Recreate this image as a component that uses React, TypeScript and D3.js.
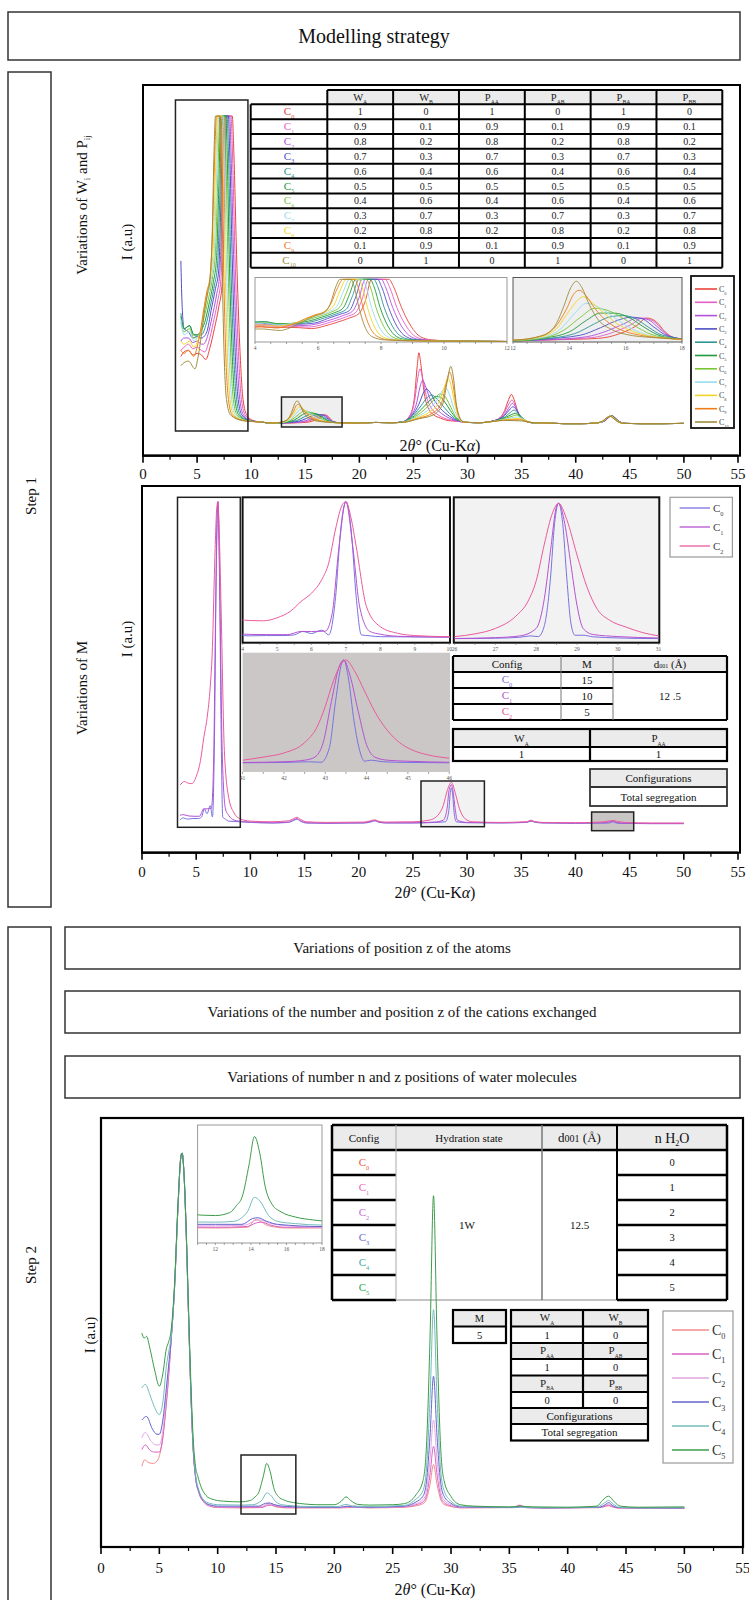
import React from "react";
import * as d3 from "d3";

type Pt = [number, number];

const FONT = "'Liberation Serif', 'DejaVu Serif', serif";

/* ---------------- Step 1 : variations of W_i and P_ij ---------------- */
const wpConfigs = ["0", "1", "2", "3", "4", "5", "6", "7", "8", "9", "10"];
const wA = [1, 0.9, 0.8, 0.7, 0.6, 0.5, 0.4, 0.3, 0.2, 0.1, 0];
const wB = [0, 0.1, 0.2, 0.3, 0.4, 0.5, 0.6, 0.7, 0.8, 0.9, 1];
const pAA = [1, 0.9, 0.8, 0.7, 0.6, 0.5, 0.4, 0.3, 0.2, 0.1, 0];
const pAB = [0, 0.1, 0.2, 0.3, 0.4, 0.5, 0.6, 0.7, 0.8, 0.9, 1];
const pBA = [1, 0.9, 0.8, 0.7, 0.6, 0.5, 0.4, 0.3, 0.2, 0.1, 0];
const pBB = [0, 0.1, 0.2, 0.3, 0.4, 0.5, 0.6, 0.7, 0.8, 0.9, 1];
const wpColors = ["#e8443a", "#e35fc6", "#b252dc", "#4f4fc6", "#2f9494", "#1f9a3c", "#79c534", "#98dcef", "#f0d624", "#f07d1c", "#9c8c3c"];

const wpC0: Pt[] = [[3.5,.22],[3.8,.235],[4.2,.24],[4.6,.225],[5.0,.23],[5.4,.225],[5.8,.21],[6.2,.25],[6.6,.31],[7.0,.38],[7.3,.45],[7.5,.65],[7.7,1],[8.25,1],[8.4,.88],[8.65,.55],[8.95,.25],[9.25,.08],[9.6,.03],[10.2,.012],[11,.007],
  [12,.003],[13,.004],[15.0,.006],[15.8,.012],[16.4,.022],[16.75,.031],[17.1,.026],[17.4,.014],[17.8,.006],[18.5,.004],[20,.004],[21.5,.006],[23,.005],
  [24,.008],[24.7,.03],[25.1,.09],[25.35,.19],[25.5,.232],[25.7,.19],[26.0,.1],[26.4,.05],[26.9,.03],[27.5,.02],[28.2,.012],[29,.01],[30,.006],
  [31,.005],[32.5,.012],[33.3,.035],[33.8,.08],[34.05,.097],[34.3,.08],[34.7,.035],[35.2,.012],[36,.005],
  [37.5,.004],[39,.002],[40.5,.002],[41.8,.004],[42.65,.01],[43.05,.022],[43.35,.028],[43.65,.021],[44.05,.009],[44.65,.003],[46,.002],[48,.002],[50,.003]];
const wpC1: Pt[] = [[3.5,.24],[3.8,.25],[4.2,.26],[4.6,.245],[5.0,.25],[5.4,.24],[5.7,.235],[6.1,.27],[6.5,.33],[6.9,.4],[7.2,.47],[7.4,.68],[7.6,1],[8.13,1],[8.27,.88],[8.5,.55],[8.8,.25],[9.1,.08],[9.45,.03],[10.1,.012],[11,.007],
  [12,.003],[13,.004],[14.8,.007],[15.6,.014],[16.2,.023],[16.6,.031],[17.0,.027],[17.35,.015],[17.7,.007],[18.5,.004],[20,.004],[21.5,.006],[23,.005],
  [24,.008],[24.7,.03],[25.1,.075],[25.4,.15],[25.6,.18],[25.85,.15],[26.2,.09],[26.7,.05],[27.3,.03],[28,.018],[29,.01],[30,.006],
  [31,.005],[32.5,.012],[33.3,.032],[33.85,.068],[34.1,.079],[34.35,.066],[34.75,.032],[35.3,.012],[36,.005],
  [37.5,.004],[39,.002],[40.5,.002],[41.8,.004],[42.63,.01],[43.03,.022],[43.33,.028],[43.63,.021],[44.03,.009],[44.63,.003],[46,.002],[48,.002],[50,.003]];
const wpC2: Pt[] = [[3.5,.27],[3.8,.28],[4.2,.28],[4.6,.265],[5.0,.27],[5.4,.26],[5.6,.26],[6.0,.29],[6.4,.35],[6.8,.42],[7.1,.49],[7.3,.7],[7.5,1],[8.01,1],[8.14,.88],[8.37,.55],[8.65,.25],[8.95,.08],[9.3,.03],[10,.012],[11,.007],
  [12,.003],[13,.004],[14.6,.008],[15.4,.016],[16.0,.025],[16.4,.031],[16.8,.029],[17.2,.018],[17.6,.008],[18.5,.004],[20,.004],[21.5,.006],[23,.005],
  [24,.008],[24.8,.03],[25.3,.07],[25.6,.12],[25.85,.143],[26.1,.125],[26.5,.085],[27.0,.055],[27.6,.035],[28.3,.02],[29.2,.01],[30,.006],
  [31,.005],[32.5,.012],[33.4,.03],[33.9,.058],[34.15,.068],[34.4,.058],[34.8,.03],[35.3,.012],[36,.005],
  [37.5,.004],[39,.002],[40.5,.002],[41.8,.004],[42.61,.01],[43.01,.022],[43.31,.028],[43.61,.021],[44.01,.009],[44.61,.003],[46,.002],[48,.002],[50,.003]];
const wpC3: Pt[] = [[3.5,.53],[3.6,.4],[3.8,.31],[4.2,.3],[4.6,.28],[5.0,.285],[5.4,.28],[5.9,.3],[6.3,.37],[6.7,.44],[7.0,.5],[7.2,.72],[7.4,1],[7.89,1],[8.02,.88],[8.24,.55],[8.5,.25],[8.8,.08],[9.15,.03],[9.9,.012],[11,.007],
  [12,.003],[13,.005],[14.4,.01],[15.1,.019],[15.7,.028],[16.2,.032],[16.6,.03],[17.0,.02],[17.5,.009],[18.5,.004],[20,.004],[21.5,.006],[23,.005],
  [24,.008],[24.9,.03],[25.5,.065],[25.9,.1],[26.2,.115],[26.5,.105],[26.9,.08],[27.4,.055],[28.0,.035],[28.7,.018],[29.5,.009],[30,.006],
  [31,.005],[32.5,.012],[33.4,.028],[33.95,.05],[34.2,.057],[34.45,.05],[34.85,.028],[35.35,.012],[36,.005],
  [37.5,.004],[39,.002],[40.5,.002],[41.8,.004],[42.59,.01],[42.99,.022],[43.29,.028],[43.59,.021],[43.99,.009],[44.59,.003],[46,.002],[48,.002],[50,.003]];
const wpC4: Pt[] = [[3.5,.36],[3.8,.31],[4.3,.32],[4.7,.29],[5.0,.29],[5.4,.29],[5.8,.32],[6.2,.38],[6.6,.45],[6.9,.52],[7.1,.74],[7.3,1],[7.77,1],[7.9,.88],[8.1,.55],[8.36,.25],[8.65,.08],[9.0,.03],[9.8,.012],[11,.007],
  [12,.003],[13,.005],[14.2,.012],[14.9,.024],[15.4,.032],[15.9,.034],[16.3,.031],[16.8,.02],[17.3,.01],[18.5,.004],[20,.004],[21.5,.006],[23,.005],
  [24,.008],[25,.03],[25.7,.06],[26.3,.088],[26.7,.095],[27.1,.085],[27.6,.065],[28.2,.04],[28.8,.02],[29.5,.01],[30,.006],
  [31,.005],[32.5,.011],[33.5,.025],[34.0,.04],[34.3,.046],[34.55,.04],[34.95,.025],[35.4,.011],[36,.005],
  [37.5,.004],[39,.002],[40.5,.002],[41.8,.004],[42.57,.01],[42.97,.022],[43.27,.027],[43.57,.021],[43.97,.009],[44.57,.003],[46,.002],[48,.002],[50,.003]];
const wpC5: Pt[] = [[3.5,.35],[3.8,.31],[4.3,.32],[4.7,.29],[5.0,.29],[5.3,.3],[5.7,.33],[6.1,.39],[6.5,.46],[6.8,.54],[7.0,.76],[7.2,1],[7.65,1],[7.78,.88],[7.97,.55],[8.22,.25],[8.5,.08],[8.85,.03],[9.7,.012],[11,.007],
  [12,.003],[13,.006],[14,.014],[14.6,.028],[15.1,.037],[15.6,.037],[16.1,.032],[16.6,.021],[17.1,.011],[17.8,.005],[18.5,.004],[20,.004],[21.5,.006],[23,.005],
  [24,.007],[25.1,.028],[25.9,.055],[26.6,.08],[27.1,.09],[27.5,.088],[27.9,.072],[28.4,.045],[28.9,.022],[29.5,.01],[30,.006],
  [31,.005],[32.5,.011],[33.5,.022],[34.1,.032],[34.4,.036],[34.65,.032],[35.0,.022],[35.5,.01],[36,.005],
  [37.5,.004],[39,.002],[40.5,.002],[41.8,.004],[42.55,.01],[42.95,.022],[43.25,.027],[43.55,.021],[43.95,.009],[44.55,.003],[46,.002],[48,.002],[50,.003]];
const wpC6: Pt[] = [[3.5,.33],[3.8,.3],[4.3,.31],[4.7,.28],[5.0,.285],[5.3,.3],[5.6,.34],[6.0,.4],[6.4,.47],[6.7,.56],[6.9,.78],[7.1,1],[7.53,1],[7.66,.88],[7.84,.55],[8.08,.25],[8.35,.08],[8.7,.03],[9.6,.012],[11,.007],
  [12,.003],[13,.006],[13.8,.016],[14.4,.032],[14.9,.043],[15.3,.041],[15.8,.033],[16.3,.022],[16.9,.011],[17.7,.006],[18.5,.004],[20,.004],[21.5,.006],[23,.005],
  [24,.007],[25.2,.026],[26.1,.05],[26.9,.08],[27.4,.098],[27.75,.097],[28.1,.08],[28.6,.045],[29.0,.02],[29.6,.008],[30.2,.006],
  [31,.005],[32.5,.01],[33.6,.02],[34.2,.027],[34.5,.03],[34.75,.027],[35.1,.018],[35.5,.009],[36,.005],
  [37.5,.004],[39,.002],[40.5,.002],[41.8,.004],[42.53,.01],[42.93,.022],[43.23,.027],[43.53,.021],[43.93,.009],[44.53,.003],[46,.002],[48,.002],[50,.003]];
const wpC7: Pt[] = [[3.5,.34],[3.8,.29],[4.3,.3],[4.7,.27],[5.0,.28],[5.3,.3],[5.6,.35],[5.9,.41],[6.3,.47],[6.6,.57],[6.8,.8],[7.0,1],[7.41,1],[7.53,.88],[7.7,.55],[7.93,.25],[8.2,.08],[8.55,.03],[9.5,.012],[11,.007],
  [12,.004],[13,.007],[13.7,.018],[14.2,.037],[14.6,.049],[15.0,.045],[15.5,.034],[16.0,.022],[16.6,.012],[17.5,.006],[18.5,.004],[20,.004],[21.5,.006],[23,.005],
  [24,.007],[25.3,.024],[26.3,.045],[27.2,.08],[27.7,.11],[28.0,.117],[28.3,.1],[28.7,.055],[29.1,.022],[29.6,.008],[30.2,.006],
  [31,.005],[32.5,.01],[33.6,.018],[34.3,.022],[34.6,.024],[34.85,.022],[35.2,.016],[35.6,.008],[36.2,.005],
  [37.5,.004],[39,.002],[40.5,.002],[41.8,.004],[42.51,.01],[42.91,.022],[43.21,.027],[43.51,.021],[43.91,.009],[44.51,.003],[46,.002],[48,.002],[50,.003]];
const wpC8: Pt[] = [[3.5,.27],[3.8,.26],[4.3,.27],[4.7,.25],[5.0,.265],[5.3,.3],[5.6,.36],[5.9,.42],[6.2,.47],[6.5,.58],[6.7,.82],[6.9,1],[7.29,1],[7.4,.88],[7.57,.55],[7.78,.25],[8.05,.08],[8.4,.03],[9.4,.012],[11,.007],
  [12,.004],[13,.008],[13.6,.02],[14.0,.04],[14.5,.057],[14.8,.05],[15.2,.038],[15.7,.024],[16.3,.014],[17.2,.007],[18.5,.004],[20,.004],[21.5,.006],[23,.005],
  [24,.006],[25.4,.022],[26.5,.04],[27.4,.075],[27.9,.125],[28.2,.15],[28.45,.13],[28.8,.07],[29.15,.025],[29.6,.008],[30.2,.006],
  [31,.005],[32.5,.01],[33.7,.016],[34.4,.018],[34.7,.019],[34.95,.017],[35.3,.013],[35.7,.007],[36.2,.005],
  [37.5,.004],[39,.002],[40.5,.002],[41.8,.004],[42.49,.01],[42.89,.021],[43.19,.027],[43.49,.021],[43.89,.009],[44.49,.003],[46,.002],[48,.002],[50,.003]];
const wpC9: Pt[] = [[3.5,.24],[3.8,.23],[4.2,.24],[4.7,.22],[5.0,.25],[5.3,.3],[5.6,.37],[5.9,.43],[6.2,.48],[6.4,.6],[6.6,.84],[6.8,1],[7.17,1],[7.27,.88],[7.43,.55],[7.63,.25],[7.9,.08],[8.25,.03],[9.3,.012],[11,.007],
  [12,.004],[13,.009],[13.5,.02],[13.9,.042],[14.15,.06],[14.35,.065],[14.6,.058],[14.9,.043],[15.3,.028],[15.8,.017],[16.5,.01],[17.5,.006],[18.5,.004],[20,.004],[21.5,.006],[23,.005],
  [24,.006],[25.5,.02],[26.7,.035],[27.6,.07],[28.05,.135],[28.35,.17],[28.6,.14],[28.9,.07],[29.2,.025],[29.6,.008],[30.2,.006],
  [31,.005],[32.5,.01],[33.7,.014],[34.5,.015],[34.8,.015],[35.1,.013],[35.5,.009],[36.2,.005],
  [37.5,.004],[39,.002],[40.5,.002],[41.8,.004],[42.47,.01],[42.87,.021],[43.17,.026],[43.47,.02],[43.87,.009],[44.47,.003],[46,.002],[48,.002],[50,.003]];
const wpC10: Pt[] = [[3.5,.19],[3.8,.2],[4.2,.205],[4.8,.18],[5.1,.22],[5.4,.29],[5.7,.37],[6.0,.43],[6.2,.47],[6.4,.62],[6.55,.86],[6.7,1],[7.05,1],[7.15,.88],[7.3,.55],[7.48,.25],[7.72,.08],[8.1,.03],[9.2,.012],[11,.007],
  [12,.004],[13,.009],[13.5,.022],[13.8,.045],[14.05,.068],[14.25,.076],[14.45,.068],[14.7,.048],[15.0,.03],[15.5,.017],[16,.011],[17,.007],[18.5,.005],[20,.004],[21.5,.006],[23,.005],
  [24,.006],[25.5,.018],[26.8,.03],[27.7,.065],[28.15,.145],[28.45,.188],[28.7,.15],[28.95,.07],[29.25,.025],[29.6,.008],[30.2,.006],
  [31,.005],[32.5,.01],[33.3,.013],[34.2,.012],[35,.011],[35.5,.008],[36.2,.005],
  [37.5,.004],[39,.002],[40.5,.002],[41.8,.004],[42.45,.01],[42.85,.021],[43.15,.026],[43.45,.02],[43.85,.009],[44.45,.003],[46,.002],[48,.002],[50,.003]];
const wpSeries = [wpC0, wpC1, wpC2, wpC3, wpC4, wpC5, wpC6, wpC7, wpC8, wpC9, wpC10];

/* ---------------- Step 1 : variations of M ---------------- */
const mConfigs = ["0", "1", "2"];
const mValues = [15, 10, 5];
const mD001 = "12 .5";
const mWA = "1";
const mPAA = "1";
const segregation = "Total segregation";
const mColors = ["#7a72e0", "#b552d2", "#ea5a9c"];

const mC0: Pt[] = [[3.5,.015],[3.8,.022],[4.2,.018],[4.7,.02],[5.2,.02],[5.5,.025],[5.75,.05],[6.0,.035],[6.3,.06],[6.5,.025],[6.7,.3],[6.85,.8],[7.0,1],[7.15,.8],[7.3,.3],[7.45,.025],[7.7,.018],[8.0,.012],[9,.01],[10,.008],
  [12,.006],[13.5,.008],[14.0,.014],[14.3,.018],[14.6,.012],[15.2,.006],[17,.005],[20.5,.006],[21.2,.01],[21.5,.013],[21.8,.009],[22.5,.006],[25,.006],[27,.008],[28.0,.01],[28.3,.04],[28.45,.1],[28.55,.115],[28.65,.1],[28.8,.04],[29.0,.01],[30,.007],
  [33,.006],[35.5,.008],[35.9,.012],[36.2,.009],[37,.006],[40,.005],[43.0,.006],[43.3,.008],[43.45,.01],[43.6,.008],[44,.005],[47,.004],[50,.004]];
const mC1: Pt[] = [[3.5,.03],[3.8,.032],[4.3,.028],[4.8,.027],[5.3,.027],[5.7,.05],[6.0,.05],[6.4,.052],[6.6,.18],[6.8,.67],[7.0,1],[7.2,.67],[7.4,.23],[7.7,.05],[8.0,.03],[8.5,.015],[9.5,.01],
  [12,.007],[13.5,.009],[14.0,.016],[14.3,.02],[14.6,.014],[15.2,.007],[17,.006],[20.5,.007],[21.2,.012],[21.5,.014],[21.8,.01],[22.5,.007],[25,.007],[27,.009],[27.8,.015],[28.15,.05],[28.35,.11],[28.55,.125],[28.7,.105],[28.9,.05],[29.1,.015],[30,.008],
  [33,.007],[35.5,.009],[35.9,.013],[36.2,.01],[37,.007],[40,.006],[42.7,.007],[43.1,.009],[43.45,.012],[43.8,.008],[44.3,.006],[47,.005],[50,.005]];
const mC2: Pt[] = [[3.5,.124],[3.7,.13],[3.9,.135],[4.2,.13],[4.6,.128],[5.0,.15],[5.4,.2],[5.7,.27],[6.0,.33],[6.3,.43],[6.5,.55],[6.7,.8],[6.9,.98],[7.0,1],[7.15,.88],[7.3,.67],[7.6,.23],[8.0,.085],[8.5,.037],[9.0,.02],[10,.012],
  [12,.01],[13.5,.013],[14.0,.02],[14.3,.024],[14.6,.018],[15.2,.01],[17,.008],[20.5,.009],[21.2,.014],[21.5,.016],[21.8,.012],[22.5,.009],[25,.01],[26.5,.015],[27.3,.03],[27.8,.06],[28.2,.11],[28.55,.132],[28.9,.1],[29.3,.05],[29.8,.02],[30.5,.01],
  [33,.008],[35.5,.01],[35.9,.015],[36.2,.011],[37,.008],[40,.007],[42.3,.009],[43.0,.012],[43.45,.014],[43.9,.011],[44.6,.008],[47,.006],[50,.006]];
const mSeries = [mC0, mC1, mC2];

// 28.5° reflection, each profile scaled to its own maximum
const mB0: Pt[] = [[26,.005],[27,.008],[27.6,.015],[27.85,.025],[28.05,.02],[28.2,.1],[28.35,.45],[28.45,.85],[28.55,1],[28.65,.85],[28.75,.45],[28.85,.12],[28.95,.03],[29.15,.03],[29.4,.018],[30,.01],[31,.005]];
const mB1: Pt[] = [[26,.006],[27,.012],[27.6,.025],[28.0,.08],[28.2,.3],[28.35,.65],[28.5,.98],[28.55,1],[28.7,.85],[28.85,.55],[29.0,.25],[29.15,.08],[29.4,.035],[30,.02],[31,.01]];
const mB2: Pt[] = [[26,.02],[26.5,.04],[27,.08],[27.5,.17],[27.8,.28],[28.0,.43],[28.2,.7],[28.4,.93],[28.55,1],[28.75,.88],[29.0,.62],[29.25,.38],[29.5,.22],[29.8,.14],[30.2,.09],[30.6,.05],[31,.025]];
const mBSeries = [mB0, mB1, mB2];
// 43.5° reflection, each profile scaled to its own maximum
const mH0: Pt[] = [[41,.005],[42,.008],[42.6,.015],[42.9,.01],[43.1,.15],[43.25,.6],[43.4,.97],[43.45,1],[43.55,.85],[43.7,.4],[43.85,.1],[43.95,.02],[44.1,.03],[44.4,.015],[45,.008],[46,.005]];
const mH1: Pt[] = [[41,.008],[42,.015],[42.5,.03],[42.75,.06],[42.95,.2],[43.15,.6],[43.35,.95],[43.45,1],[43.6,.85],[43.8,.5],[44.0,.18],[44.2,.06],[44.5,.03],[45,.02],[46,.01]];
const mH2: Pt[] = [[41,.03],[41.5,.06],[42,.1],[42.5,.2],[42.8,.35],[43.0,.55],[43.2,.8],[43.4,.97],[43.5,1],[43.7,.9],[43.95,.7],[44.2,.5],[44.5,.32],[44.8,.2],[45.1,.13],[45.5,.08],[46,.05]];
const mHSeries = [mH0, mH1, mH2];

/* ---------------- Step 2 : number n of water molecules ---------------- */
const hConfigs = ["0", "1", "2", "3", "4", "5"];
const nH2O = [0, 1, 2, 3, 4, 5];
const hState = "1W";
const hD001 = "12.5";
const hM = "5";
const hWHeads = [["W", "A"], ["W", "B"]];
const hWVals = ["1", "0"];
const hPAHeads = [["P", "AA"], ["P", "AB"]];
const hPAVals = ["1", "0"];
const hPBHeads = [["P", "BA"], ["P", "BB"]];
const hPBVals = ["0", "0"];
const hColors = ["#f28c8c", "#d762c4", "#e2a6e6", "#6464cc", "#74bcbc", "#3c9c4a"];
const hLabelColors = ["#ea5a3c", "#e864bc", "#c86ad8", "#6a6ad2", "#3aa8a2", "#2ea848"];

const hC0: Pt[] = [[3.5,.12],[3.75,.138],[4.1,.13],[4.5,.128],[4.9,.14],[5.2,.18],[5.5,.26],[5.8,.37],[6.0,.47],[6.3,.62],[6.6,.85],[6.85,.99],[6.95,1],[7.1,.95],[7.3,.78],[7.5,.55],[7.7,.33],[7.9,.17],[8.1,.09],[8.4,.045],[8.8,.02],[9.3,.008],[10,.004],
  [12,.003],[13.8,.004],[14.3,.015],[14.6,.011],[15,.006],[16,.003],[20.5,.003],[21.4,.004],[21.7,.009],[22.0,.005],[23,.003],
  [26,.005],[27,.009],[27.6,.015],[27.9,.028],[28.2,.069],[28.5,.125],[28.8,.069],[29.1,.028],[29.4,.013],[30,.007],[30.8,.003],
  [35.3,.004],[35.9,.011],[36.4,.004],[38,.003],[42.7,.004],[43.2,.007],[43.5,.009],[43.8,.006],[44.3,.003],[47,.002],[50,.002]];
const hC1: Pt[] = [[3.5,.167],[3.8,.18],[4.2,.165],[4.6,.16],[5.0,.16],[5.3,.2],[5.6,.3],[5.85,.4],[6.0,.47],[6.3,.62],[6.6,.85],[6.85,.99],[6.95,1],[7.1,.95],[7.3,.78],[7.5,.55],[7.7,.33],[7.9,.17],[8.1,.09],[8.4,.045],[8.8,.02],[9.3,.009],[10,.005],
  [12,.004],[13.8,.005],[14.3,.01],[14.6,.011],[15.1,.007],[16,.004],[20.5,.004],[21.2,.006],[21.6,.005],[23,.004],
  [26,.006],[27,.012],[27.6,.02],[27.9,.038],[28.2,.097],[28.5,.176],[28.8,.097],[29.1,.038],[29.4,.018],[30,.009],[30.8,.004],
  [35.3,.004],[35.9,.01],[36.4,.004],[38,.003],[42.7,.004],[43.2,.008],[43.5,.011],[43.8,.007],[44.3,.003],[47,.002],[50,.002]];
const hC2: Pt[] = [[3.5,.2],[3.8,.215],[4.3,.19],[4.7,.18],[5.0,.18],[5.3,.22],[5.6,.32],[5.85,.41],[6.0,.47],[6.3,.62],[6.6,.85],[6.85,.99],[6.95,1],[7.1,.95],[7.3,.78],[7.5,.55],[7.7,.33],[7.9,.17],[8.1,.09],[8.4,.046],[8.8,.021],[9.3,.01],[10,.006],
  [12,.006],[13.7,.007],[14.2,.013],[14.5,.014],[15,.01],[16,.006],[18,.004],[20.5,.004],[21.2,.007],[21.6,.005],[23,.004],
  [26,.007],[27,.015],[27.6,.026],[27.9,.053],[28.2,.138],[28.5,.25],[28.8,.138],[29.1,.053],[29.4,.025],[30,.012],[30.8,.005],
  [35.5,.004],[36,.006],[36.5,.004],[38,.003],[42.7,.005],[43.2,.01],[43.5,.014],[43.8,.009],[44.3,.004],[47,.003],[50,.003]];
const hC3: Pt[] = [[3.5,.25],[3.9,.26],[4.4,.225],[4.8,.21],[5.0,.21],[5.3,.25],[5.6,.34],[5.85,.42],[6.0,.47],[6.3,.62],[6.6,.85],[6.85,.99],[6.95,1],[7.1,.95],[7.3,.78],[7.5,.55],[7.7,.33],[7.9,.17],[8.1,.092],[8.4,.048],[8.8,.022],[9.3,.012],[10,.008],
  [12,.008],[13.5,.008],[14.1,.016],[14.4,.017],[14.9,.012],[15.5,.008],[18,.005],[20.5,.005],[21.1,.008],[21.6,.006],[23,.005],
  [26,.008],[27,.02],[27.6,.036],[27.9,.078],[28.2,.205],[28.5,.373],[28.8,.205],[29.1,.078],[29.4,.036],[30,.016],[30.8,.006],
  [35.5,.004],[36,.006],[36.5,.004],[38,.003],[42.7,.005],[43.2,.012],[43.5,.018],[43.8,.011],[44.3,.004],[47,.003],[50,.003]];
const hC4: Pt[] = [[3.5,.34],[3.8,.35],[4.2,.32],[4.6,.285],[5.0,.265],[5.3,.3],[5.6,.4],[5.85,.45],[6.0,.48],[6.3,.62],[6.6,.85],[6.85,.99],[6.95,1],[7.1,.95],[7.3,.78],[7.5,.55],[7.7,.34],[7.9,.18],[8.1,.1],[8.4,.052],[8.8,.026],[9.3,.016],[10,.012],
  [12,.011],[13,.012],[13.8,.025],[14.2,.045],[14.5,.04],[15.0,.02],[15.5,.012],[16.5,.009],[18,.007],[20.3,.007],[21.0,.013],[21.6,.008],[23,.007],
  [26,.01],[27,.028],[27.6,.052],[27.9,.115],[28.2,.31],[28.5,.56],[28.8,.31],[29.1,.115],[29.4,.052],[30,.022],[30.8,.008],
  [35.5,.005],[36,.006],[36.5,.005],[38,.004],[42.6,.006],[43.1,.016],[43.5,.024],[43.9,.014],[44.4,.005],[47,.003],[50,.004]];
const hC5: Pt[] = [[3.5,.494],[3.7,.48],[3.9,.485],[4.2,.45],[4.6,.39],[5.0,.345],[5.3,.38],[5.6,.45],[5.8,.47],[6.0,.5],[6.3,.63],[6.6,.86],[6.85,.99],[6.95,1],[7.1,.95],[7.3,.79],[7.5,.57],[7.7,.36],[7.9,.2],[8.1,.12],[8.3,.092],[8.6,.06],[9.0,.038],[9.5,.028],[10.5,.022],
  [12,.02],[12.8,.024],[13.2,.034],[13.5,.045],[13.9,.09],[14.2,.128],[14.5,.105],[14.8,.06],[15.2,.035],[15.7,.025],[16.5,.018],[17.5,.014],[18.5,.012],[20,.012],[20.6,.022],[21.0,.034],[21.4,.024],[22,.013],[23,.011],[25,.012],
  [26,.015],[27,.04],[27.6,.08],[27.9,.18],[28.2,.48],[28.5,.88],[28.8,.48],[29.1,.18],[29.4,.08],[30,.035],[30.8,.012],
  [32,.008],[35,.006],[36,.008],[37,.006],[40,.005],[42.5,.008],[43.0,.025],[43.5,.036],[44.0,.02],[44.5,.008],[46,.005],[50,.006]];
const hSeries = [hC0, hC1, hC2, hC3, hC4, hC5];

/* ---------------- helpers ---------------- */
function Curve({ data, x, y, color, width = 1 }: any) {
  const gen = d3.line<Pt>().x((d) => x(d[0])).y((d) => y(d[1])).curve(d3.curveMonotoneX);
  return <path d={gen(data) || ""} fill="none" stroke={color} strokeWidth={width} strokeLinejoin="round" />;
}

function Sub({ x, y, base, sub, size, fill = "#222", anchor = "middle", ratio = 0.58, drop = 0.32 }: any) {
  return (
    <text x={x} y={y} fontSize={size} fill={fill} textAnchor={anchor}>
      {base}
      <tspan fontSize={size * ratio} dy={size * drop}>{sub}</tspan>
    </text>
  );
}

function AxisTitle({ x, y }: any) {
  return (
    <text x={x} y={y} fontSize={16} textAnchor="middle">
      2<tspan fontStyle="italic">θ</tspan>° (Cu-K<tspan fontStyle="italic">α</tspan>)
    </text>
  );
}

function BottomAxis({ x, y, labelY }: any) {
  const majors = d3.range(0, 56, 5);
  const minors = d3.range(2.5, 55, 5);
  return (
    <g>
      <line x1={x(0)} x2={x(55)} y1={y} y2={y} stroke="#000" strokeWidth={2.2} />
      {majors.map((v) => <line key={"M" + v} x1={x(v)} x2={x(v)} y1={y} y2={y + 7} stroke="#000" strokeWidth={1.6} />)}
      {minors.map((v) => <line key={"m" + v} x1={x(v)} x2={x(v)} y1={y} y2={y + 4} stroke="#000" strokeWidth={1.2} />)}
      {majors.map((v) => <text key={"t" + v} x={x(v)} y={labelY} fontSize={15} textAnchor="middle">{v}</text>)}
    </g>
  );
}

function InsetTicks({ x, y, lo, hi, labels, step = 0.5 }: any) {
  const minor = d3.range(lo, hi + 0.001, step);
  return (
    <g>
      {minor.map((v: number) => <line key={v} x1={x(v)} x2={x(v)} y1={y} y2={y + 2} stroke="#666" strokeWidth={0.6} />)}
      {labels.map((v: number) => <text key={"l" + v} x={x(v)} y={y + 7.5} fontSize={5.5} fill="#555" textAnchor="middle">{v}</text>)}
    </g>
  );
}

function VText({ x, y, size = 15, children }: any) {
  return (
    <text transform={`translate(${x},${y}) rotate(-90)`} fontSize={size} textAnchor="middle">{children}</text>
  );
}

function HLine({ x1, x2, y, w = 2, c = "#000" }: any) {
  return <line x1={x1} x2={x2} y1={y} y2={y} stroke={c} strokeWidth={w} />;
}
function VLine({ x, y1, y2, w = 2, c = "#000" }: any) {
  return <line x1={x} x2={x} y1={y1} y2={y2} stroke={c} strokeWidth={w} />;
}

const HEAD = "#ebebeb";

/* ---------------- Step 1, panel a ---------------- */
function PanelWP() {
  const x = d3.scaleLinear().domain([0, 55]).range([143, 738]);
  const y = d3.scaleLinear().domain([0, 1]).range([424.3, 116]);
  const fr = { l: 143, r: 740, t: 85, b: 455.7 };

  const colX = d3.scaleBand().domain(["WA", "WB", "PAA", "PAB", "PBA", "PBB"]).range([327.3, 722.3]);
  const rowY = d3.scaleBand().domain(wpConfigs).range([104.3, 267.7]);
  const tl = 250.7, tr = 722.3, tt = 90, th = 104.3, tb = 267.7;
  const heads = [["W", "A"], ["W", "B"], ["P", "AA"], ["P", "AB"], ["P", "BA"], ["P", "BB"]];
  const cols = [wA, wB, pAA, pAB, pBA, pBB];

  const x1 = d3.scaleLinear().domain([4, 12]).range([255, 507]);
  const y1 = d3.scaleLinear().domain([0, 1]).range([341.7, 279.3]);
  const x2 = d3.scaleLinear().domain([12, 18]).range([513, 682]);
  const y2 = d3.scaleLinear().domain([0.002, 0.08]).range([341.7, 278]);
  const legY = d3.scaleLinear().domain([0, 10]).range([289, 422]);

  return (
    <g>
      <defs>
        <clipPath id="wpMain"><rect x={fr.l} y={fr.t} width={fr.r - fr.l} height={fr.b - fr.t} /></clipPath>
        <clipPath id="wpIn1"><rect x={255} y={277.5} width={252} height={64.5} /></clipPath>
        <clipPath id="wpIn2"><rect x={513} y={277.5} width={169} height={64.5} /></clipPath>
      </defs>
      <rect x={fr.l} y={fr.t} width={fr.r - fr.l} height={fr.b - fr.t} fill="#fff" stroke="#000" strokeWidth={2} />
      <rect x={x(12.8)} y={397} width={x(18.4) - x(12.8)} height={30} fill="#efefef" />
      <g clipPath="url(#wpMain)">
        {wpSeries.map((s, i) => <Curve key={i} data={s} x={x} y={y} color={wpColors[i]} />)}
      </g>
      <rect x={x(3)} y={100} width={x(9.7) - x(3)} height={331} fill="none" stroke="#222" strokeWidth={1.5} />
      <rect x={x(12.8)} y={397} width={x(18.4) - x(12.8)} height={30} fill="none" stroke="#222" strokeWidth={1.5} />

      {/* configuration table */}
      <rect x={colX.range()[0]} y={tt} width={tr - colX.range()[0]} height={th - tt} fill={HEAD} />
      <rect x={tl} y={th} width={tr - tl} height={tb - th} fill="#fff" />
      {heads.map((h, j) => (
        <Sub key={j} x={colX(colX.domain()[j])! + colX.bandwidth() / 2} y={100.5} base={h[0]} sub={h[1]} size={10.5} ratio={0.55} drop={0.32} />
      ))}
      {wpConfigs.map((c, i) => (
        <g key={c}>
          <Sub x={(tl + colX.range()[0]) / 2} y={rowY(c)! + 11} base="C" sub={c} size={11} fill={wpColors[i]} ratio={0.55} />
          {cols.map((col, j) => (
            <text key={j} x={colX(colX.domain()[j])! + colX.bandwidth() / 2} y={rowY(c)! + 11} fontSize={10} textAnchor="middle" fill="#222">{String(col[i])}</text>
          ))}
        </g>
      ))}
      <HLine x1={colX.range()[0]} x2={tr} y={tt} />
      {wpConfigs.map((c) => <HLine key={c} x1={tl} x2={tr} y={rowY(c)!} />)}
      <HLine x1={tl} x2={tr} y={tb} />
      <VLine x={tl} y1={th} y2={tb} />
      {colX.domain().map((d) => <VLine key={d} x={colX(d)!} y1={tt} y2={tb} />)}
      <VLine x={tr} y1={tt} y2={tb} />

      {/* inset 4–12° */}
      <rect x={255} y={277.5} width={252} height={64.5} fill="#fff" stroke="#999" strokeWidth={1} />
      <g clipPath="url(#wpIn1)">
        {wpSeries.map((s, i) => <Curve key={i} data={s} x={x1} y={y1} color={wpColors[i]} width={0.9} />)}
      </g>
      <InsetTicks x={x1} y={342} lo={4} hi={12} labels={[4, 6, 8, 10, 12]} />

      {/* inset 12–18° */}
      <rect x={513} y={277.5} width={169} height={64.5} fill="#efefef" stroke="#555" strokeWidth={1} />
      <g clipPath="url(#wpIn2)">
        {wpSeries.map((s, i) => <Curve key={i} data={s} x={x2} y={y2} color={wpColors[i]} width={0.9} />)}
      </g>
      <InsetTicks x={x2} y={342} lo={12} hi={18} labels={[12, 14, 16, 18]} />

      {/* legend */}
      <rect x={691} y={276} width={43} height={152} fill="#fff" stroke="#111" strokeWidth={1.8} />
      {wpConfigs.map((c, i) => (
        <g key={c}>
          <HLine x1={695} x2={717} y={legY(i)} w={1.6} c={wpColors[i]} />
          <Sub x={719} y={legY(i) + 3} base="C" sub={c} size={8} fill="#444" anchor="start" ratio={0.55} />
        </g>
      ))}

      <BottomAxis x={x} y={fr.b} labelY={478.5} />
      <AxisTitle x={440} y={451} />
      <VText x={132} y={242}>I (a.u)</VText>
      <VText x={87} y={205}>
        Variations of W<tspan fontSize={9} dy={3}>i</tspan><tspan dy={-3}> and P</tspan><tspan fontSize={9} dy={3}>ij</tspan>
      </VText>
    </g>
  );
}

/* ---------------- Step 1, panel b ---------------- */
function PanelM() {
  const x = d3.scaleLinear().domain([0, 55]).range([142, 738]);
  const y = d3.scaleLinear().domain([0, 1]).range([825, 501.7]);
  const fr = { l: 142, r: 740, t: 486, b: 852.7 };

  const xa = d3.scaleLinear().domain([4, 10]).range([242.6, 449.2]);
  const ya = d3.scaleLinear().domain([0, 1]).range([638.3, 501.7]);
  const xb = d3.scaleLinear().domain([26, 31]).range([454.6, 658.6]);
  const yb = d3.scaleLinear().domain([0, 1]).range([639.3, 503.3]);
  const xc = d3.scaleLinear().domain([41, 46]).range([242.6, 449.2]);
  const yc = d3.scaleLinear().domain([0, 1]).range([763.3, 660]);
  const legY = d3.scalePoint().domain(mConfigs).range([508, 546]);
  const rowY = d3.scaleBand().domain(mConfigs).range([672, 720]);

  return (
    <g>
      <defs>
        <clipPath id="mMain"><rect x={fr.l} y={fr.t} width={fr.r - fr.l} height={fr.b - fr.t} /></clipPath>
        <clipPath id="mInA"><rect x={242.6} y={497.3} width={207.4} height={145.4} /></clipPath>
        <clipPath id="mInB"><rect x={453.8} y={497.3} width={205.5} height={145.4} /></clipPath>
        <clipPath id="mInC"><rect x={242.6} y={652.7} width={207.4} height={119.3} /></clipPath>
      </defs>
      <rect x={fr.l} y={fr.t} width={fr.r - fr.l} height={fr.b - fr.t} fill="#fff" stroke="#000" strokeWidth={2} />
      <rect x={421} y={781} width={63.4} height={45.7} fill="#f2f2f2" />
      <rect x={591.6} y={812} width={42.1} height={18.7} fill="#c9c5c5" />
      <g clipPath="url(#mMain)">
        {mSeries.map((s, i) => <Curve key={i} data={s} x={x} y={y} color={mColors[i]} />)}
      </g>
      <rect x={177.5} y={497.3} width={62.8} height={330} fill="none" stroke="#222" strokeWidth={1.5} />
      <rect x={421} y={781} width={63.4} height={45.7} fill="none" stroke="#222" strokeWidth={1.5} />
      <rect x={591.6} y={812} width={42.1} height={18.7} fill="none" stroke="#222" strokeWidth={1.5} />

      {/* inset 4–10° */}
      <rect x={242.6} y={497.3} width={207.4} height={145.4} fill="#fff" stroke="#111" strokeWidth={2} />
      <g clipPath="url(#mInA)">
        {mSeries.map((s, i) => <Curve key={i} data={s} x={xa} y={ya} color={mColors[i]} />)}
      </g>
      <InsetTicks x={xa} y={643} lo={4} hi={10} labels={[4, 5, 6, 7, 8, 9, 10]} />

      {/* inset 26–31° */}
      <rect x={453.8} y={497.3} width={205.5} height={145.4} fill="#f2f2f2" stroke="#111" strokeWidth={2} />
      <g clipPath="url(#mInB)">
        {mBSeries.map((s, i) => <Curve key={i} data={s} x={xb} y={yb} color={mColors[i]} />)}
      </g>
      <InsetTicks x={xb} y={643} lo={26} hi={31} labels={[26, 27, 28, 29, 30, 31]} />

      {/* inset 41–46° */}
      <rect x={242.6} y={652.7} width={207.4} height={119.3} fill="#cbc7c7" />
      <g clipPath="url(#mInC)">
        {mHSeries.map((s, i) => <Curve key={i} data={s} x={xc} y={yc} color={mColors[i]} />)}
      </g>
      <InsetTicks x={xc} y={772} lo={41} hi={46} labels={[41, 42, 43, 44, 45, 46]} />

      {/* legend */}
      <rect x={670} y={497.3} width={62.4} height={59.7} fill="#fff" stroke="#999" strokeWidth={1.2} />
      {mConfigs.map((c, i) => (
        <g key={c}>
          <HLine x1={679.6} x2={710} y={legY(c)!} w={1.3} c={mColors[i]} />
          <Sub x={713} y={legY(c)! + 4} base="C" sub={c} size={11} fill="#444" anchor="start" />
        </g>
      ))}

      {/* Config / M / d001 table */}
      <rect x={453} y={656} width={274} height={16} fill={HEAD} />
      <rect x={453} y={672} width={274} height={48} fill="#fff" />
      <text x={507} y={668} fontSize={11} textAnchor="middle">Config</text>
      <text x={587} y={668} fontSize={11} textAnchor="middle">M</text>
      <text x={670} y={668} fontSize={11} textAnchor="middle">
        d<tspan fontSize={6}>001</tspan> (Å)
      </text>
      {mConfigs.map((c, i) => (
        <g key={c}>
          <Sub x={507} y={rowY(c)! + 11} base="C" sub={c} size={11} fill={mColors[i]} />
          <text x={587} y={rowY(c)! + 12} fontSize={11} textAnchor="middle">{mValues[i]}</text>
        </g>
      ))}
      <text x={670} y={700} fontSize={11} textAnchor="middle">{mD001}</text>
      <HLine x1={453} x2={727} y={656} w={2.2} />
      <HLine x1={453} x2={727} y={672} w={2.2} />
      {mConfigs.slice(1).map((c) => <HLine key={c} x1={453} x2={613} y={rowY(c)!} w={2} />)}
      <HLine x1={453} x2={727} y={720} w={2.2} />
      <VLine x={453} y1={656} y2={720} w={2.2} />
      <VLine x={561} y1={656} y2={720} w={1} c="#777" />
      <VLine x={613} y1={656} y2={720} w={1} c="#777" />
      <VLine x={727} y1={656} y2={720} w={2.2} />

      {/* W_A / P_AA table */}
      <rect x={453} y={729} width={274} height={18} fill={HEAD} />
      <rect x={453} y={747} width={274} height={14} fill="#fff" />
      <Sub x={521.5} y={742} base="W" sub="A" size={11} ratio={0.5} />
      <Sub x={658.5} y={742} base="P" sub="AA" size={11} ratio={0.5} />
      <text x={521.5} y={758} fontSize={11} textAnchor="middle">{mWA}</text>
      <text x={658.5} y={758} fontSize={11} textAnchor="middle">{mPAA}</text>
      <rect x={453} y={729} width={274} height={32} fill="none" stroke="#000" strokeWidth={2.2} />
      <HLine x1={453} x2={727} y={747} w={2.2} />
      <VLine x={590} y1={729} y2={761} w={2.2} />

      {/* configuration table */}
      <rect x={590} y={769} width={137} height={18} fill={HEAD} />
      <rect x={590} y={787} width={137} height={19} fill="#fff" />
      <text x={658.5} y={782} fontSize={11} textAnchor="middle">Configurations</text>
      <text x={658.5} y={800.5} fontSize={11} textAnchor="middle">{segregation}</text>
      <rect x={590} y={769} width={137} height={37} fill="none" stroke="#333" strokeWidth={1.8} />
      <HLine x1={590} x2={727} y={787} w={1.8} c="#333" />

      <BottomAxis x={x} y={fr.b} labelY={877} />
      <AxisTitle x={435} y={898} />
      <VText x={132} y={639}>I (a.u)</VText>
      <VText x={87} y={688}>Variations of M</VText>
    </g>
  );
}

/* ---------------- Step 2, hydration panel ---------------- */
function PanelH() {
  const x = d3.scaleLinear().domain([0, 55]).range([101, 742.7]);
  const y = d3.scaleLinear().domain([0, 1]).range([1509, 1153]);
  const fr = { l: 101, r: 743, t: 1118, b: 1547 };
  const xi = d3.scaleLinear().domain([11, 18]).range([197.6, 322]);
  const yi = d3.scaleLinear().domain([-0.0175, 0.1437]).range([1243, 1125]);
  const rowY = d3.scaleBand().domain(hConfigs).range([1150, 1300]);
  const legY = d3.scalePoint().domain(hConfigs).range([1330, 1450]);
  const c = [332, 396, 542, 617, 727];
  const wRows = [1310, 1326.5, 1343, 1359, 1375.5, 1392, 1408, 1424, 1440.5];
  const wc = [511, 583, 648];

  const pairRow = (heads: string[][], vals: string[], r: number) => (
    <g>
      <rect x={wc[0]} y={wRows[r]} width={wc[2] - wc[0]} height={wRows[r + 1] - wRows[r]} fill={HEAD} />
      {heads.map((h, j) => (
        <Sub key={j} x={(wc[j] + wc[j + 1]) / 2} y={wRows[r] + 11} base={h[0]} sub={h[1]} size={11} ratio={0.5} />
      ))}
      {vals.map((v, j) => (
        <text key={"v" + j} x={(wc[j] + wc[j + 1]) / 2} y={wRows[r + 1] + 12} fontSize={10.5} textAnchor="middle">{v}</text>
      ))}
    </g>
  );

  return (
    <g>
      <defs>
        <clipPath id="hMain"><rect x={fr.l} y={fr.t} width={fr.r - fr.l} height={fr.b - fr.t} /></clipPath>
        <clipPath id="hIn"><rect x={197.6} y={1125} width={124.4} height={118} /></clipPath>
      </defs>
      <rect x={fr.l} y={fr.t} width={fr.r - fr.l} height={fr.b - fr.t} fill="#fff" stroke="#000" strokeWidth={2.2} />

      {/* hydration table, drawn beneath the patterns */}
      <rect x={c[0]} y={1125} width={c[4] - c[0]} height={25} fill={HEAD} />
      <rect x={c[0]} y={1150} width={c[4] - c[0]} height={150} fill="#fff" />
      <text x={364} y={1142} fontSize={11} textAnchor="middle">Config</text>
      <text x={469} y={1142} fontSize={11} textAnchor="middle">Hydration state</text>
      <text x={579.5} y={1142} fontSize={13} textAnchor="middle">
        d<tspan fontSize={10}>001</tspan> (Å)
      </text>
      <text x={672} y={1143} fontSize={14} textAnchor="middle">
        n H<tspan fontSize={8} dy={3}>2</tspan><tspan dy={-3}>O</tspan>
      </text>
      {hConfigs.map((k, i) => (
        <g key={k}>
          <Sub x={364} y={rowY(k)! + 16} base="C" sub={k} size={11} fill={hLabelColors[i]} />
          <text x={672} y={rowY(k)! + 16} fontSize={10.5} textAnchor="middle">{nH2O[i]}</text>
        </g>
      ))}
      <text x={467} y={1229} fontSize={11} textAnchor="middle">{hState}</text>
      <text x={579.5} y={1229} fontSize={11} textAnchor="middle">{hD001}</text>
      <HLine x1={c[0]} x2={c[4]} y={1125} w={2.5} />
      <HLine x1={c[0]} x2={c[4]} y={1150} w={2.5} />
      {hConfigs.slice(1).map((k) => (
        <g key={k}>
          <HLine x1={c[0]} x2={c[1]} y={rowY(k)!} w={2.5} />
          <HLine x1={c[3]} x2={c[4]} y={rowY(k)!} w={2.5} />
        </g>
      ))}
      <HLine x1={c[0]} x2={c[1]} y={1300} w={2.5} />
      <HLine x1={c[1]} x2={c[3]} y={1300} w={1.2} c="#888" />
      <HLine x1={c[3]} x2={c[4]} y={1300} w={2.5} />
      <VLine x={c[0]} y1={1125} y2={1300} w={2.5} />
      <VLine x={c[1]} y1={1125} y2={1300} w={1} c="#aaa" />
      <VLine x={c[2]} y1={1125} y2={1300} w={1.5} c="#777" />
      <VLine x={c[3]} y1={1125} y2={1300} w={2} />
      <VLine x={c[4]} y1={1125} y2={1300} w={2.5} />

      <g clipPath="url(#hMain)">
        {hSeries.map((s, i) => <Curve key={i} data={s} x={x} y={y} color={hColors[i]} />)}
      </g>
      <rect x={x(12)} y={1455} width={x(16.7) - x(12)} height={59} fill="none" stroke="#222" strokeWidth={1.5} />

      {/* inset 11–18° */}
      <rect x={197.6} y={1125} width={124.4} height={118} fill="#fff" stroke="#999" strokeWidth={1} />
      <g clipPath="url(#hIn)">
        {hSeries.map((s, i) => <Curve key={i} data={s} x={xi} y={yi} color={hColors[i]} />)}
      </g>
      <InsetTicks x={xi} y={1243} lo={11} hi={18} labels={[12, 14, 16, 18]} />

      {/* M table */}
      <rect x={453} y={1310} width={53} height={16.5} fill={HEAD} />
      <text x={479.5} y={1322} fontSize={10.5} textAnchor="middle">M</text>
      <text x={479.5} y={1339} fontSize={10.5} textAnchor="middle">{hM}</text>
      <rect x={453} y={1310} width={53} height={33} fill="none" stroke="#000" strokeWidth={2.2} />
      <HLine x1={453} x2={506} y={1326.5} w={2.2} />

      {/* W / P table */}
      {pairRow(hWHeads, hWVals, 0)}
      {pairRow(hPAHeads, hPAVals, 2)}
      {pairRow(hPBHeads, hPBVals, 4)}
      <rect x={wc[0]} y={wRows[6]} width={wc[2] - wc[0]} height={wRows[7] - wRows[6]} fill={HEAD} />
      <text x={(wc[0] + wc[2]) / 2} y={wRows[6] + 12} fontSize={11} textAnchor="middle">Configurations</text>
      <text x={(wc[0] + wc[2]) / 2} y={wRows[7] + 12} fontSize={11} textAnchor="middle">{segregation}</text>
      <rect x={wc[0]} y={wRows[0]} width={wc[2] - wc[0]} height={wRows[8] - wRows[0]} fill="none" stroke="#000" strokeWidth={2.2} />
      {wRows.slice(1, 8).map((r, k) => <HLine key={k} x1={wc[0]} x2={wc[2]} y={r} w={2.2} />)}
      <VLine x={wc[1]} y1={wRows[0]} y2={wRows[6]} w={2.2} />

      {/* legend */}
      <rect x={663} y={1311} width={70} height={152} fill="#fff" stroke="#999" strokeWidth={1.2} />
      {hConfigs.map((k, i) => (
        <g key={k}>
          <HLine x1={672} x2={709} y={legY(k)!} w={1.3} c={hColors[i]} />
          <Sub x={712} y={legY(k)! + 5} base="C" sub={k} size={14} fill="#333" anchor="start" />
        </g>
      ))}

      <BottomAxis x={x} y={fr.b} labelY={1573} />
      <AxisTitle x={435} y={1595} />
      <VText x={95} y={1335}>I (a.u)</VText>
    </g>
  );
}

export default function App() {
  const stepBoxes = [
    { y: 927, h: 42, label: "Variations of position z of the atoms" },
    { y: 991, h: 42, label: "Variations of the number and position z of the cations exchanged" },
    { y: 1056, h: 42, label: "Variations of number n and z positions of water molecules" },
  ];
  return (
    <svg width={749} height={1600} viewBox="0 0 749 1600" style={{ position: "absolute", left: 0, top: 0, background: "#fff" }}
      fontFamily={FONT} fill="#111">
      <rect x={0} y={0} width={749} height={1600} fill="#fff" />
      {/* header */}
      <rect x={8} y={12} width={732} height={48} fill="#fff" stroke="#333" strokeWidth={1.5} />
      <text x={374} y={43} fontSize={20} textAnchor="middle">Modelling strategy</text>

      {/* step columns */}
      <rect x={8} y={72} width={43} height={835} fill="#fff" stroke="#333" strokeWidth={1.5} />
      <VText x={36} y={496}>Step 1</VText>
      <rect x={8} y={927} width={43} height={680} fill="#fff" stroke="#333" strokeWidth={1.5} />
      <VText x={36} y={1265}>Step 2</VText>

      {stepBoxes.map((b, i) => (
        <g key={i}>
          <rect x={65} y={b.y} width={675} height={b.h} fill="#fff" stroke="#333" strokeWidth={1.5} />
          <text x={402} y={b.y + b.h / 2 + 5} fontSize={15} textAnchor="middle">{b.label}</text>
        </g>
      ))}

      <PanelWP />
      <PanelM />
      <PanelH />
    </svg>
  );
}
